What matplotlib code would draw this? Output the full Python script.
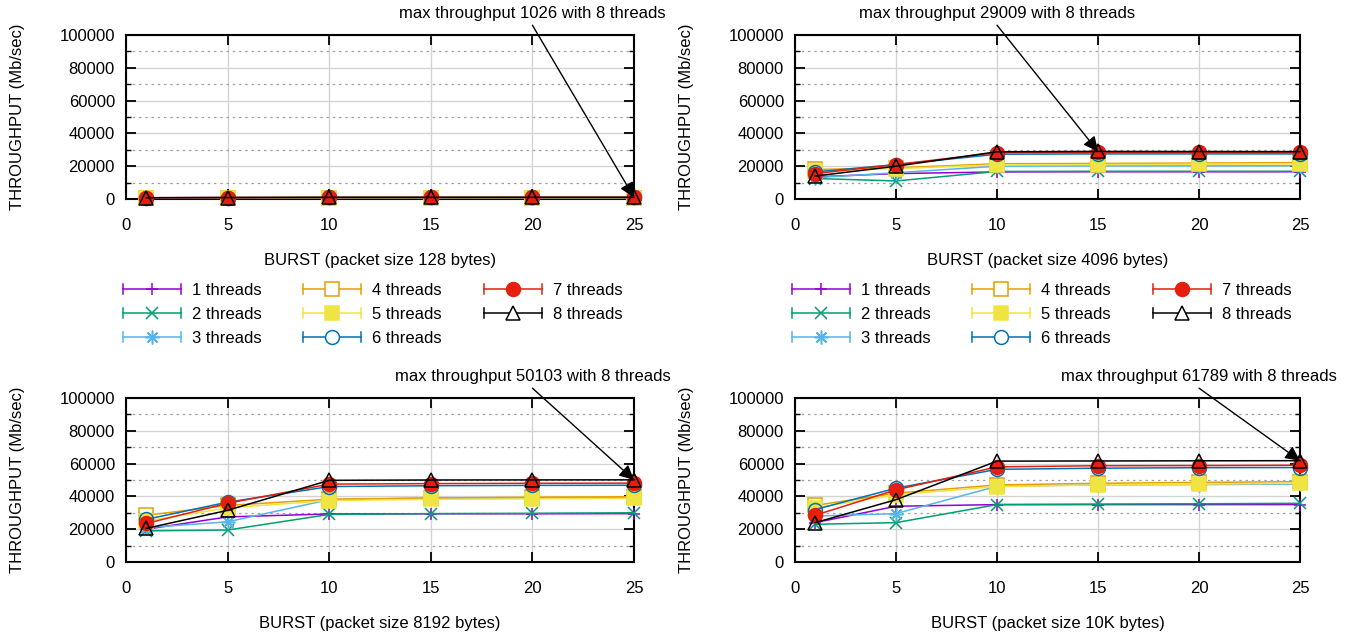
import numpy as np
import matplotlib
matplotlib.use("Agg")
import matplotlib.pyplot as plt
from matplotlib.lines import Line2D
from matplotlib.legend_handler import HandlerBase
from matplotlib.ticker import MultipleLocator

plt.rcParams['font.family'] = ['Liberation Sans', 'DejaVu Sans']

bursts = [1, 5, 10, 15, 20, 25]
thread_labels = ["1 threads", "2 threads", "3 threads", "4 threads",
                 "5 threads", "6 threads", "7 threads", "8 threads"]
packet_titles = ["BURST (packet size 128 bytes)", "BURST (packet size 4096 bytes)",
                 "BURST (packet size 8192 bytes)", "BURST (packet size 10K bytes)"]

# throughput (Mb/sec) per thread count, packet size 128 bytes
p128 = [
    [560, 600, 640, 650, 650, 660],
    [520, 560, 620, 630, 640, 640],
    [580, 640, 700, 710, 720, 720],
    [700, 780, 850, 860, 870, 880],
    [680, 760, 830, 840, 850, 860],
    [740, 850, 930, 940, 950, 960],
    [760, 880, 970, 980, 990, 1000],
    [780, 900, 1000, 1010, 1020, 1026],
]
# packet size 4096 bytes
p4096 = [
    [13500, 15500, 16500, 16600, 16600, 16600],
    [12500, 11000, 16800, 16900, 16900, 16900],
    [13000, 16000, 20000, 20200, 20200, 20300],
    [18000, 19000, 21500, 21700, 21900, 22200],
    [17000, 18500, 20800, 21000, 21200, 21500],
    [16500, 21000, 27300, 27500, 27500, 27500],
    [15500, 21000, 28300, 28500, 28500, 28500],
    [14000, 20000, 28800, 29009, 28950, 28900],
]
# packet size 8192 bytes
p8192 = [
    [20000, 27500, 29300, 29400, 29400, 29500],
    [19000, 19500, 29000, 29500, 29700, 30000],
    [21000, 24500, 38000, 39000, 39000, 39200],
    [28500, 34500, 38300, 39000, 39500, 39800],
    [25000, 33000, 37500, 38200, 38500, 38800],
    [26000, 36500, 46000, 46500, 46700, 46800],
    [23500, 35800, 47500, 47800, 48000, 48100],
    [20500, 31500, 49800, 50000, 50050, 50103],
]
# packet size 10K bytes
p10k = [
    [24000, 34000, 35000, 35000, 35000, 35000],
    [23000, 24000, 35000, 35300, 35500, 35800],
    [28000, 29500, 46200, 47000, 47200, 47500],
    [34500, 42000, 47000, 48000, 48500, 49000],
    [33000, 41000, 46000, 47000, 47500, 48000],
    [32000, 45000, 56500, 57200, 57500, 57600],
    [28500, 44000, 58000, 58700, 58800, 59000],
    [24000, 38000, 61500, 61600, 61700, 61789],
]
panels = [p128, p4096, p8192, p10k]

colors = ["#9400D3", "#009E73", "#56B4E9", "#E69F00",
          "#F0E442", "#0072B2", "#E51E10", "#000000"]
markers = ['+', 'x', (8, 2, 0), 's', 's', 'o', 'o', '^']
sizes = [9, 9, 10, 10, 10, 10, 10, 10]
filled = [True, True, True, False, True, False, True, False]


class CapHandler(HandlerBase):
    def create_artists(self, legend, orig, xdescent, ydescent, width, height,
                       fontsize, trans):
        y = height / 2 - ydescent
        x0 = -xdescent
        x1 = x0 + width
        h = height * 0.45
        c = orig.get_color()
        line = Line2D([x0, x1], [y, y], color=c, lw=orig.get_linewidth())
        caps = Line2D([x0, x0, np.nan, x1, x1], [y - h, y + h, np.nan, y - h, y + h],
                      color=c, lw=orig.get_linewidth())
        mfc = orig.get_markerfacecolor()
        if mfc == 'none' and orig.get_marker() in ('^', 'o', 's'):
            mfc = 'white'
        mk = Line2D([(x0 + x1) / 2], [y], marker=orig.get_marker(),
                    ms=orig.get_markersize(), mfc=mfc,
                    mec=orig.get_markeredgecolor(), mew=orig.get_markeredgewidth(),
                    ls='none')
        for a in (line, caps, mk):
            a.set_transform(trans)
        return [line, caps, mk]


fig = plt.figure(figsize=(13.45, 6.35), dpi=100)
W, H = 1345, 635
boxes = [(126, 634, 35, 199), (795, 1300, 35, 199),
         (126, 634, 398, 562), (795, 1300, 398, 562)]

for i, (data, title) in enumerate(zip(panels, packet_titles)):
    l, r, t, b = boxes[i]
    ax = fig.add_axes([l / W, 1 - b / H, (r - l) / W, (b - t) / H])
    handles = []
    for k in range(8):
        mfc = colors[k] if filled[k] else 'none'
        ln, = ax.plot(bursts, data[k], color=colors[k], lw=1.1, marker=markers[k],
                      ms=sizes[k], mfc=mfc, mec=colors[k], mew=1.1,
                      label=thread_labels[k], clip_on=False, zorder=3 + k)
        handles.append(ln)
    ax.set_xlim(0, 25)
    ax.set_ylim(0, 100000)
    ax.xaxis.set_major_locator(MultipleLocator(5))
    ax.yaxis.set_major_locator(MultipleLocator(20000))
    ax.yaxis.set_minor_locator(MultipleLocator(10000))
    ax.grid(True, which='major', color='#d3d3d3', lw=1.0, ls='-')
    ax.grid(True, which='minor', axis='y', color='#a0a0a0', lw=0.9, ls=(0, (2, 3)))
    ax.set_axisbelow(True)
    ax.tick_params(which='major', direction='in', length=7, width=1.3,
                   top=True, right=True, labelsize=12, pad=8)
    ax.tick_params(axis='x', which='major', pad=14)
    ax.tick_params(which='minor', direction='in', length=3.5, width=1.0,
                   left=True, right=True)
    ax.tick_params(axis='x', which='minor', bottom=False, top=False)
    for s in ax.spines.values():
        s.set_linewidth(1.5)
    ax.set_xlabel(title, fontsize=12, labelpad=14)
    ax.set_ylabel("THROUGHPUT (Mb/sec)", fontsize=12, labelpad=25)

    best = data[7]
    jm = int(np.argmax(best))
    xm, ym = bursts[jm], best[jm]
    ax.annotate('', xy=(xm, ym), xytext=(xm - 5, 106000),
                arrowprops=dict(arrowstyle='-|>', color='black', lw=1.0,
                                mutation_scale=22, shrinkA=0, shrinkB=0),
                annotation_clip=False, zorder=20)
    ax.text(xm - 5, 113000, f"max throughput {ym} with 8 threads",
            ha='center', va='center', fontsize=12, clip_on=False)

    if i < 2:
        ax.legend(handles=handles, handler_map={Line2D: CapHandler()},
                  loc='upper left', bbox_to_anchor=(-0.02, -0.47), ncol=3,
                  frameon=False, fontsize=12, handlelength=3.5,
                  handletextpad=0.65, columnspacing=2.5, labelspacing=0.54,
                  borderaxespad=0)

fig.savefig("out.png", dpi=100)
